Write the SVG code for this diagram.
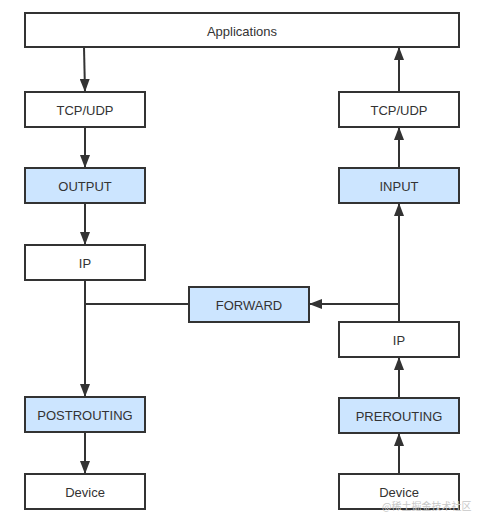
<svg xmlns="http://www.w3.org/2000/svg" width="484" height="522" viewBox="0 0 484 522">
<style>
.box{fill:#ffffff;stroke:#333333;stroke-width:2}
.hook{fill:#cce5ff;stroke:#333333;stroke-width:2}
.lbl{font-family:"Liberation Sans",Arial,sans-serif;font-size:13px;fill:#333333;text-anchor:middle;dominant-baseline:central}
.edge{stroke:#333333;stroke-width:2;fill:none}
.wm{font-family:"Noto Sans CJK SC",sans-serif;font-size:10px;fill:#c8c8c8}
</style>
<defs>
<marker id="ah" viewBox="0 0 13 10" refX="13" refY="5" markerWidth="13" markerHeight="10" markerUnits="userSpaceOnUse" orient="auto">
<path d="M0,0 L13,5 L0,10 Z" fill="#333333"/>
</marker>
</defs>
<rect width="484" height="522" fill="#ffffff"/>
<g id="connectors">
<line class="edge" x1="84" y1="47" x2="85" y2="92" marker-end="url(#ah)"/>
<line class="edge" x1="85" y1="127" x2="85" y2="168" marker-end="url(#ah)"/>
<line class="edge" x1="85" y1="203" x2="85" y2="245" marker-end="url(#ah)"/>
<line class="edge" x1="85" y1="280" x2="85" y2="397" marker-end="url(#ah)"/>
<line class="edge" x1="85" y1="432" x2="85" y2="474" marker-end="url(#ah)"/>
<line class="edge" x1="189" y1="304" x2="85" y2="304"/>
<line class="edge" x1="399" y1="474" x2="399" y2="433" marker-end="url(#ah)"/>
<line class="edge" x1="399" y1="398" x2="399" y2="357" marker-end="url(#ah)"/>
<line class="edge" x1="399" y1="322" x2="399" y2="203" marker-end="url(#ah)"/>
<line class="edge" x1="399" y1="304" x2="309" y2="304" marker-end="url(#ah)"/>
<line class="edge" x1="399" y1="168" x2="399" y2="127" marker-end="url(#ah)"/>
<line class="edge" x1="399" y1="92" x2="399" y2="47" marker-end="url(#ah)"/>
</g>
<g id="applications"><rect class="box" x="25" y="13" width="434" height="34"/><text class="lbl" x="242" y="31">Applications</text></g>
<g id="tcpudp-left"><rect class="box" x="25" y="92" width="120" height="35"/><text class="lbl" x="85" y="110">TCP/UDP</text></g>
<g id="output"><rect class="hook" x="25" y="168" width="120" height="35"/><text class="lbl" x="85" y="186">OUTPUT</text></g>
<g id="ip-left"><rect class="box" x="25" y="245" width="120" height="35"/><text class="lbl" x="85" y="263">IP</text></g>
<g id="postrouting"><rect class="hook" x="25" y="397" width="120" height="35"/><text class="lbl" x="85" y="415">POSTROUTING</text></g>
<g id="device-left"><rect class="box" x="25" y="474" width="120" height="35"/><text class="lbl" x="85" y="492">Device</text></g>
<g id="forward"><rect class="hook" x="189" y="287" width="120" height="35"/><text class="lbl" x="249" y="305">FORWARD</text></g>
<g id="tcpudp-right"><rect class="box" x="339" y="92" width="120" height="35"/><text class="lbl" x="399" y="110">TCP/UDP</text></g>
<g id="input"><rect class="hook" x="339" y="168" width="120" height="35"/><text class="lbl" x="399" y="186">INPUT</text></g>
<g id="ip-right"><rect class="box" x="339" y="322" width="120" height="35"/><text class="lbl" x="399" y="340">IP</text></g>
<g id="prerouting"><rect class="hook" x="339" y="398" width="120" height="35"/><text class="lbl" x="399" y="416">PREROUTING</text></g>
<g id="device-right"><rect class="box" x="339" y="474" width="120" height="35"/><text class="lbl" x="399" y="492">Device</text></g>
<text class="wm" x="382" y="510">@稀土掘金技术社区</text>
</svg>
